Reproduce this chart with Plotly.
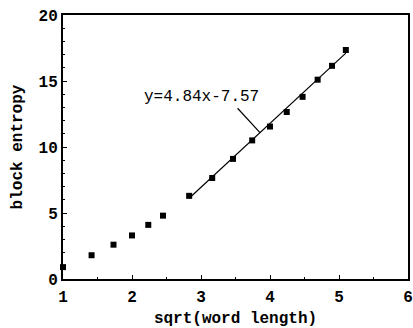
import numpy as np
import plotly.graph_objects as go

word_length = [1, 2, 3, 4, 5, 6, 8, 10, 12, 14, 16, 18, 20, 22, 24, 26]
block_entropy = [0.9, 1.8, 2.6, 3.3, 4.1, 4.8, 6.3, 7.65, 9.1, 10.5, 11.55, 12.65, 13.8, 15.1, 16.15, 17.35]
slope, intercept = 4.84, -7.57
fit_start_length = 8
x_ticks = [1, 2, 3, 4, 5, 6]
y_ticks = [0, 5, 10, 15, 20]

x = np.sqrt(word_length)
fit_x = x[x >= np.sqrt(fit_start_length) - 1e-9]
fit_y = slope * fit_x + intercept

FONT = "Liberation Mono"

fig = go.Figure()
fig.add_trace(go.Scatter(x=fit_x, y=fit_y, mode="lines",
                         line=dict(color="black", width=1.2), showlegend=False))
fig.add_trace(go.Scatter(x=x, y=block_entropy, mode="markers",
                         marker=dict(symbol="square", color="black", size=6),
                         showlegend=False, cliponaxis=False))

head_x = 3.855
fig.add_annotation(x=head_x, y=slope * head_x + intercept, ax=3.51, ay=13.05,
                   axref="x", ayref="y", xref="x", yref="y", text="",
                   showarrow=True, arrowhead=0, arrowwidth=1.2, arrowcolor="black")
fig.add_annotation(x=3.0, y=13.8, xref="x", yref="y",
                   text=f"y={slope}x{intercept}", showarrow=False,
                   font=dict(family=FONT, size=16, color="black"))

axis_common = dict(showgrid=False, zeroline=False, showline=True, linecolor="black",
                   linewidth=2, mirror=True, ticks="inside", ticklen=4,
                   tickcolor="black", tickwidth=1, automargin=False,
                   tickfont=dict(family=FONT, size=16, color="black", weight="bold"),
                   title_font=dict(family=FONT, size=16, color="black", weight="bold"),
                   minor=dict(ticks="inside", ticklen=2, tickcolor="black"))

fig.update_xaxes(range=[1, 6], tickvals=x_ticks, title_text="sqrt(word length)",
                 title_standoff=8, ticklabelstandoff=2, **axis_common)
fig.update_yaxes(range=[0, 20], tickvals=y_ticks, title_text="block entropy",
                 title_standoff=12, **axis_common)

fig.update_layout(width=413, height=328, margin=dict(l=63, r=5, t=15, b=49),
                  plot_bgcolor="white", paper_bgcolor="white")

fig.write_html("out.html", config={"displayModeBar": False},
               post_script="document.body.style.margin='0';document.body.style.overflow='hidden';")
